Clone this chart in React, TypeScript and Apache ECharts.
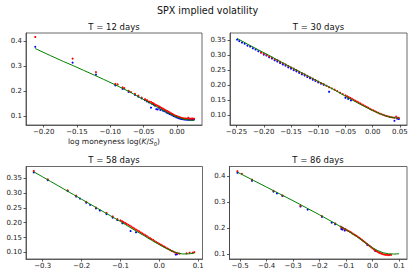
import React, { useEffect, useRef } from "react";
import * as echarts from "echarts";

// ---------- data ----------
const panelTitles = ["T = 12 days", "T = 30 days", "T = 58 days", "T = 86 days"];

const xTicks12 = [-0.2, -0.15, -0.1, -0.05, 0.0];
const yTicks12 = [0.1, 0.2, 0.3, 0.4];
const xTicks30 = [-0.25, -0.2, -0.15, -0.1, -0.05, 0.0, 0.05];
const yTicks30 = [0.1, 0.15, 0.2, 0.25, 0.3, 0.35];
const xTicks58 = [-0.3, -0.2, -0.1, 0.0, 0.1];
const yTicks58 = [0.1, 0.15, 0.2, 0.25, 0.3, 0.35];
const xTicks86 = [-0.5, -0.4, -0.3, -0.2, -0.1, 0.0, 0.1];
const yTicks86 = [0.1, 0.2, 0.3, 0.4];

const green12 = [
  [-0.2125, 0.369], [-0.19, 0.341], [-0.17, 0.317], [-0.155, 0.3], [-0.14, 0.282], [-0.124, 0.263],
  [-0.11, 0.246], [-0.0915, 0.223], [-0.08, 0.208], [-0.07, 0.195], [-0.06, 0.18], [-0.045, 0.158],
  [-0.03, 0.136], [-0.015, 0.114], [-0.005, 0.101], [0.0, 0.096], [0.005, 0.091], [0.01, 0.087],
  [0.015, 0.085], [0.02, 0.083], [0.0255, 0.082],
];
const red12 = [
  [-0.2125, 0.415], [-0.1565, 0.329], [-0.1215, 0.275], [-0.0925, 0.228], [-0.089, 0.226], [-0.0815, 0.214],
  [-0.079, 0.211], [-0.0725, 0.2], [-0.069, 0.195], [-0.063, 0.188], [-0.058, 0.181], [-0.053, 0.173],
  [-0.048, 0.167], [-0.045, 0.163], [-0.042, 0.158], [-0.039, 0.156], [-0.037, 0.152], [-0.035, 0.15],
  [-0.033, 0.146], [-0.031, 0.143], [-0.029, 0.141], [-0.027, 0.138], [-0.025, 0.135], [-0.023, 0.132],
  [-0.021, 0.129], [-0.019, 0.126], [-0.017, 0.123], [-0.015, 0.12], [-0.013, 0.117], [-0.011, 0.114],
  [-0.009, 0.111], [-0.007, 0.108], [-0.005, 0.105], [-0.003, 0.102], [-0.001, 0.1], [0.001, 0.098],
  [0.003, 0.096], [0.005, 0.094], [0.007, 0.092], [0.009, 0.091], [0.011, 0.09], [0.013, 0.09],
  [0.015, 0.089], [0.017, 0.093], [0.019, 0.089], [0.021, 0.089], [0.023, 0.09], [0.0255, 0.089],
];
const blue12 = [
  [-0.2125, 0.376], [-0.1565, 0.313], [-0.1215, 0.265], [-0.0925, 0.222], [-0.0815, 0.208], [-0.0725, 0.196],
  [-0.063, 0.184], [-0.058, 0.177], [-0.053, 0.17], [-0.048, 0.163], [-0.045, 0.158], [-0.042, 0.154],
  [-0.039, 0.133], [-0.037, 0.148], [-0.035, 0.145], [-0.033, 0.141], [-0.031, 0.127], [-0.029, 0.126],
  [-0.027, 0.133], [-0.025, 0.124], [-0.023, 0.126], [-0.021, 0.121], [-0.019, 0.119], [-0.017, 0.117],
  [-0.015, 0.113], [-0.013, 0.111], [-0.011, 0.108], [-0.009, 0.106], [-0.007, 0.103], [-0.005, 0.1],
  [-0.003, 0.098], [-0.001, 0.095], [0.001, 0.093], [0.003, 0.091], [0.005, 0.089], [0.007, 0.088],
  [0.009, 0.087], [0.011, 0.086], [0.013, 0.086], [0.015, 0.085], [0.017, 0.085], [0.019, 0.085],
  [0.021, 0.085], [0.023, 0.086], [0.0255, 0.086],
];

const green30 = [
  [-0.249, 0.356], [-0.23, 0.337], [-0.21, 0.318], [-0.19, 0.299], [-0.17, 0.279], [-0.15, 0.26],
  [-0.13, 0.241], [-0.11, 0.222], [-0.09, 0.203], [-0.07, 0.184], [-0.05, 0.163], [-0.03, 0.143],
  [-0.01, 0.124], [0.0, 0.115], [0.01, 0.107], [0.02, 0.1], [0.03, 0.094], [0.04, 0.091], [0.048, 0.09],
];
const blue30 = [
  [-0.249, 0.352], [-0.245, 0.347], [-0.24, 0.342], [-0.235, 0.338], [-0.23, 0.332], [-0.225, 0.329],
  [-0.22, 0.323], [-0.215, 0.319], [-0.21, 0.313], [-0.205, 0.309], [-0.2, 0.302], [-0.195, 0.299],
  [-0.19, 0.293], [-0.185, 0.289], [-0.18, 0.283], [-0.175, 0.279], [-0.17, 0.274], [-0.165, 0.269],
  [-0.16, 0.265], [-0.155, 0.259], [-0.15, 0.255], [-0.145, 0.25], [-0.14, 0.246], [-0.135, 0.241],
  [-0.13, 0.236], [-0.125, 0.232], [-0.12, 0.227], [-0.115, 0.223], [-0.11, 0.218], [-0.105, 0.214],
  [-0.1, 0.209], [-0.095, 0.205], [-0.09, 0.201], [-0.08, 0.178], [-0.05, 0.158], [-0.045, 0.154],
  [-0.04, 0.149], [0.04, 0.081], [0.045, 0.088], [0.048, 0.087],
];
const red30 = [
  [-0.205, 0.309], [-0.2, 0.305], [-0.195, 0.301], [-0.19, 0.296], [-0.185, 0.292], [-0.18, 0.287],
  [-0.175, 0.283], [-0.17, 0.278], [-0.165, 0.273], [-0.16, 0.269], [-0.155, 0.264], [-0.15, 0.259],
  [-0.145, 0.255], [-0.14, 0.25], [-0.135, 0.245], [-0.13, 0.24], [-0.125, 0.236], [-0.12, 0.231],
  [-0.115, 0.226], [-0.11, 0.222], [-0.105, 0.217], [-0.1, 0.212], [-0.095, 0.207], [-0.09, 0.203],
  [-0.085, 0.198], [-0.08, 0.193], [-0.075, 0.189], [-0.07, 0.185], [-0.065, 0.18], [-0.06, 0.175],
  [-0.055, 0.17], [-0.05, 0.166], [-0.047, 0.163], [-0.044, 0.16], [-0.041, 0.157], [-0.038, 0.154],
  [-0.035, 0.151], [-0.032, 0.148], [-0.029, 0.145], [-0.026, 0.142], [-0.023, 0.139], [-0.02, 0.136],
  [-0.017, 0.133], [-0.014, 0.13], [-0.011, 0.127], [-0.008, 0.124], [-0.005, 0.121], [-0.002, 0.118],
  [0.001, 0.116], [0.004, 0.113], [0.007, 0.11], [0.01, 0.108], [0.013, 0.105], [0.016, 0.103],
  [0.019, 0.101], [0.022, 0.099], [0.025, 0.097], [0.028, 0.096], [0.031, 0.094], [0.034, 0.093],
  [0.037, 0.092], [0.04, 0.091], [0.043, 0.095], [0.046, 0.091], [0.048, 0.091],
];

const green58 = [
  [-0.323, 0.371], [-0.3, 0.354], [-0.28, 0.339], [-0.26, 0.324], [-0.24, 0.309], [-0.22, 0.294],
  [-0.2, 0.279], [-0.18, 0.264], [-0.16, 0.249], [-0.14, 0.234], [-0.12, 0.219], [-0.1, 0.204],
  [-0.08, 0.188], [-0.06, 0.172], [-0.04, 0.157], [-0.02, 0.141], [0.0, 0.126], [0.02, 0.112],
  [0.04, 0.101], [0.05, 0.097], [0.06, 0.095], [0.07, 0.095], [0.08, 0.096], [0.09, 0.098],
];
const blue58 = [
  [-0.323, 0.369], [-0.287, 0.343], [-0.236, 0.307], [-0.214, 0.288], [-0.204, 0.281], [-0.188, 0.267],
  [-0.178, 0.26], [-0.163, 0.248], [-0.153, 0.241], [-0.136, 0.229], [-0.12, 0.217], [-0.108, 0.209],
  [-0.095, 0.198], [-0.074, 0.172], [-0.06, 0.168], [0.042, 0.093], [0.045, 0.094],
];
const red58 = [
  [-0.323, 0.374], [-0.287, 0.346], [-0.236, 0.309], [-0.214, 0.291], [-0.188, 0.27], [-0.163, 0.251],
  [-0.136, 0.233], [-0.12, 0.221], [-0.108, 0.212], [-0.1, 0.208], [-0.096, 0.205], [-0.092, 0.202],
  [-0.088, 0.199], [-0.084, 0.196], [-0.08, 0.193], [-0.076, 0.19], [-0.072, 0.187], [-0.068, 0.183],
  [-0.064, 0.18], [-0.06, 0.177], [-0.056, 0.174], [-0.052, 0.171], [-0.048, 0.167], [-0.044, 0.164],
  [-0.04, 0.161], [-0.036, 0.158], [-0.032, 0.155], [-0.028, 0.151], [-0.024, 0.148], [-0.02, 0.145],
  [-0.016, 0.142], [-0.012, 0.138], [-0.008, 0.135], [-0.004, 0.132], [0.0, 0.129], [0.004, 0.126],
  [0.008, 0.123], [0.012, 0.12], [0.016, 0.117], [0.02, 0.114], [0.024, 0.111], [0.028, 0.108],
  [0.032, 0.105], [0.036, 0.103], [0.04, 0.1], [0.044, 0.098], [0.048, 0.097], [0.052, 0.096],
  [0.07, 0.097], [0.078, 0.099], [0.086, 0.099], [0.09, 0.101],
];

const green86 = [
  [-0.51, 0.414], [-0.49, 0.404], [-0.45, 0.383], [-0.4, 0.357], [-0.35, 0.331], [-0.3, 0.305],
  [-0.25, 0.278], [-0.2, 0.251], [-0.15, 0.223], [-0.1, 0.194], [-0.06, 0.168], [-0.03, 0.146],
  [0.0, 0.125], [0.02, 0.114], [0.04, 0.106], [0.06, 0.102], [0.08, 0.101], [0.1, 0.102],
];
const blue86 = [
  [-0.51, 0.412], [-0.455, 0.381], [-0.374, 0.34], [-0.361, 0.333], [-0.34, 0.323], [-0.272, 0.283],
  [-0.245, 0.271], [-0.191, 0.243], [-0.154, 0.221], [-0.141, 0.215], [-0.118, 0.197], [-0.114, 0.195],
  [-0.105, 0.191], [-0.02, 0.136], [0.01, 0.113],
];
const red86 = [
  [-0.51, 0.418], [-0.493, 0.408], [-0.455, 0.386], [-0.374, 0.343], [-0.34, 0.325], [-0.272, 0.286],
  [-0.191, 0.246], [-0.141, 0.218], [-0.12, 0.206], [-0.116, 0.203], [-0.112, 0.201], [-0.108, 0.198],
  [-0.104, 0.197], [-0.1, 0.194], [-0.095, 0.191], [-0.09, 0.189], [-0.085, 0.186], [-0.08, 0.183],
  [-0.075, 0.179], [-0.07, 0.176], [-0.065, 0.173], [-0.06, 0.17], [-0.055, 0.166], [-0.05, 0.163],
  [-0.045, 0.159], [-0.04, 0.155], [-0.035, 0.151], [-0.03, 0.147], [-0.025, 0.143], [-0.02, 0.139],
  [-0.015, 0.135], [-0.01, 0.131], [-0.005, 0.127], [0.0, 0.123], [0.005, 0.119], [0.01, 0.115],
  [0.015, 0.112], [0.02, 0.109], [0.025, 0.106], [0.03, 0.104], [0.035, 0.102], [0.04, 0.1],
  [0.045, 0.099], [0.05, 0.098], [0.055, 0.098], [0.06, 0.097], [0.065, 0.098], [0.07, 0.098],
];

const FONT = "DejaVu Sans";

const panels = [
  { green: green12, red: red12, blue: blue12, xTicks: xTicks12, yTicks: yTicks12, xDec: 2, yDec: 1,
    xMin: -0.2264, xMax: 0.0375, yMin: 0.064, yMax: 0.431, grid: { left: 26, top: 33, width: 176, height: 92 } },
  { green: green30, red: red30, blue: blue30, xTicks: xTicks30, yTicks: yTicks30, xDec: 2, yDec: 2,
    xMin: -0.262, xMax: 0.063, yMin: 0.067, yMax: 0.374, grid: { left: 230, top: 33, width: 177, height: 92 } },
  { green: green58, red: red58, blue: blue58, xTicks: xTicks58, yTicks: yTicks58, xDec: 1, yDec: 2,
    xMin: -0.343, xMax: 0.111, yMin: 0.078, yMax: 0.389, grid: { left: 26, top: 166.5, width: 176.5, height: 92.5 } },
  { green: green86, red: red86, blue: blue86, xTicks: xTicks86, yTicks: yTicks86, xDec: 1, yDec: 1,
    xMin: -0.54, xMax: 0.13, yMin: 0.082, yMax: 0.436, grid: { left: 229.5, top: 166.5, width: 177.5, height: 92.5 } },
];

function fmt(d: number) {
  return (v: number) => (v < -1e-9 ? "\u2212" : "") + Math.abs(v).toFixed(d);
}

export default function App() {
  const ref = useRef<HTMLDivElement>(null);
  useEffect(() => {
    if (!ref.current) return;
    const chart = echarts.init(ref.current, null, { renderer: "svg" });
    const grid: any[] = [];
    const xAxis: any[] = [];
    const yAxis: any[] = [];
    const series: any[] = [];
    panels.forEach((p, i) => {
      grid.push({ ...p.grid, show: true, borderColor: "#444", borderWidth: 0.8, backgroundColor: "transparent" });
      const xa: any = {
        type: "value", gridIndex: i, min: p.xMin, max: p.xMax,
        axisLine: { show: true, onZero: false, lineStyle: { color: "#444", width: 0.8 } },
        axisTick: { show: true, length: 2.5, customValues: p.xTicks, lineStyle: { color: "#333", width: 0.8 } },
        axisLabel: { customValues: p.xTicks, formatter: fmt(p.xDec), fontSize: 7, color: "#222", margin: 3.5, fontFamily: FONT },
        splitLine: { show: false },
      };
      if (i === 0) {
        xa.name = "{n|log moneyness log(}{i|K}{n|/}{i|S}{s|0}{n|)}";
        xa.nameLocation = "middle";
        xa.nameGap = 11;
        xa.nameTextStyle = {
          fontFamily: FONT, fontSize: 7.5, color: "#222",
          rich: {
            n: { fontFamily: FONT, fontSize: 7.5, color: "#222", lineHeight: 10 },
            i: { fontFamily: FONT, fontSize: 7.5, color: "#222", fontStyle: "italic", lineHeight: 10 },
            s: { fontFamily: FONT, fontSize: 5.3, color: "#222", verticalAlign: "bottom", lineHeight: 10, padding: [3, 0, 0, 0] },
          },
        };
      }
      xAxis.push(xa);
      yAxis.push({
        type: "value", gridIndex: i, min: p.yMin, max: p.yMax,
        axisLine: { show: true, onZero: false, lineStyle: { color: "#444", width: 0.8 } },
        axisTick: { show: true, length: 2.5, customValues: p.yTicks, lineStyle: { color: "#333", width: 0.8 } },
        axisLabel: { customValues: p.yTicks, formatter: fmt(p.yDec), fontSize: 7, color: "#222", margin: 4, fontFamily: FONT },
        splitLine: { show: false },
      });
      series.push({
        type: "scatter", xAxisIndex: i, yAxisIndex: i, data: p.blue, symbol: "circle", symbolSize: 2.1,
        itemStyle: { color: "#0000ff", opacity: 1 }, silent: true,
      });
      series.push({
        type: "scatter", xAxisIndex: i, yAxisIndex: i, data: p.red, symbol: "circle", symbolSize: 2.1,
        itemStyle: { color: "#ff0000", opacity: 1 }, silent: true,
      });
      series.push({
        type: "line", xAxisIndex: i, yAxisIndex: i, data: p.green, showSymbol: false, smooth: false,
        lineStyle: { color: "#008000", width: 1 }, silent: true,
      });
    });

    const textStyle = (size: number) => ({ fontFamily: FONT, fontSize: size, fill: "#111", textAlign: "center", textVerticalAlign: "middle", align: "center", verticalAlign: "middle" });
    const titlePos = [[114, 27], [318.5, 27], [114, 159.5], [318, 159.5]];
    const graphic: any[] = [
      { type: "text", x: 207.5, y: 10, style: { text: "SPX implied volatility", ...textStyle(9.6) } },
    ];
    panelTitles.forEach((t, i) => {
      graphic.push({ type: "text", x: titlePos[i][0], y: titlePos[i][1], style: { text: t, ...textStyle(8.5) } });
    });

    chart.setOption({
      animation: false,
      backgroundColor: "#ffffff",
      grid, xAxis, yAxis, series, graphic,
    });
    return () => chart.dispose();
  }, []);
  return <div ref={ref} style={{ position: "fixed", left: 0, top: 0, width: 415, height: 277 }} />;
}
